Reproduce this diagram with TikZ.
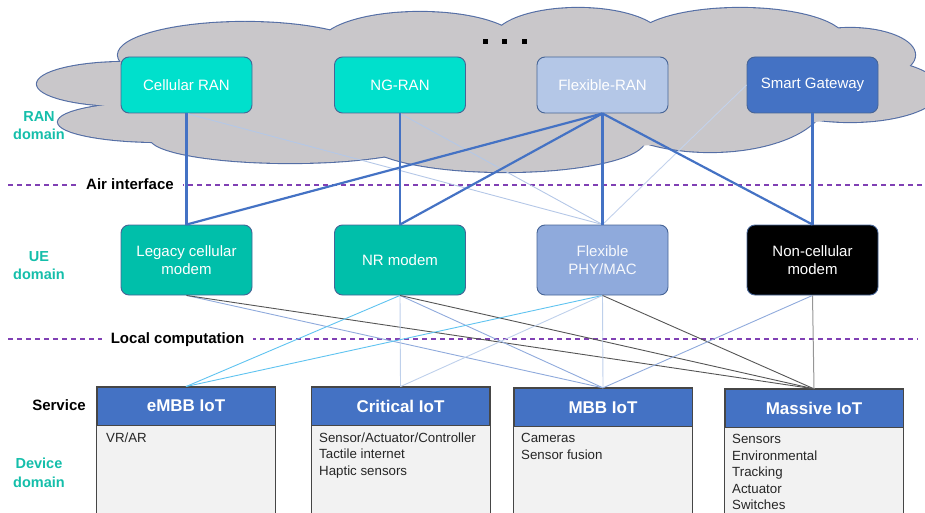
\documentclass[tikz,border=0pt]{standalone}
\usepackage{fontspec}
\setmainfont{Liberation Sans}

\definecolor{ranteal}{RGB}{0,224,204}
\definecolor{ueteal}{RGB}{0,191,170}
\definecolor{flexran}{RGB}{180,199,231}
\definecolor{flexphy}{RGB}{143,170,220}
\definecolor{gwblue}{RGB}{68,114,196}
\definecolor{boxedge}{RGB}{70,100,150}
\definecolor{hdredge}{RGB}{70,70,70}
\definecolor{cloudfill}{RGB}{201,199,202}
\definecolor{cloudline}{RGB}{84,110,165}
\definecolor{domainteal}{RGB}{20,190,170}
\definecolor{dashpurple}{RGB}{128,64,180}
\definecolor{linkblue}{RGB}{68,114,196}
\definecolor{linkpale}{RGB}{190,208,235}
\definecolor{linkcyan}{RGB}{95,195,240}
\definecolor{linkmid}{RGB}{143,170,220}
\definecolor{linkdark}{RGB}{85,85,85}
\definecolor{linkgray}{RGB}{150,150,150}
\definecolor{bodyfill}{RGB}{242,242,242}

\tikzset{
  ranbox/.style={draw=boxedge, line width=0.9pt, rounded corners=8pt,
    minimum width=131pt, minimum height=56pt, inner sep=0pt, text=white,
    align=center, font=\fontsize{15}{18}\selectfont},
  uebox/.style={ranbox, minimum height=70pt},
  svchdr/.style={draw=hdredge, line width=0.9pt, fill=gwblue, minimum width=178pt,
    minimum height=38pt, inner sep=0pt, text=white,
    font=\bfseries\fontsize{17}{20}\selectfont},
  svcbody/.style={draw=hdredge, line width=0.9pt, fill=bodyfill},
  bodytext/.style={anchor=north west, inner sep=0pt, align=left,
    text=black!85, font=\fontsize{13.3}{16.5}\selectfont},
  domainlabel/.style={text=domainteal, align=center,
    font=\bfseries\fontsize{14.5}{18.5}\selectfont},
  layerlabel/.style={fill=white, anchor=base, inner xsep=9pt, inner ysep=1pt,
    font=\bfseries\fontsize{15}{18}\selectfont},
  layerline/.style={draw=dashpurple, line width=1.8pt, dash pattern=on 5pt off 4pt},
  biglink/.style={draw=linkblue, line width=2.2pt},
  thinlink/.style={line width=0.9pt},
}

\begin{document}
\begin{tikzpicture}[x=1pt,y=-1pt]
\useasboundingbox (0,0) rectangle (925,513);

% ---- RAN cloud: lobes outlined, then filled over to keep only the outer edge
\def\cloudlobes{125/84/88/22, 160/122/102/20, 290/138/140/25, 505/140/140/32,
  710/100/115/52, 850/55/65/27, 850/90/90/32, 245/55/127/33, 420/45/100/33,
  578/40/85/32, 740/40/105/32}
\foreach \cx/\cy/\rx/\ry in \cloudlobes
  \draw[cloudline, line width=2.2pt] (\cx,\cy) ellipse [x radius=\rx pt, y radius=\ry pt];
\foreach \cx/\cy/\rx/\ry in \cloudlobes
  \fill[cloudfill] (\cx,\cy) ellipse [x radius=\rx pt, y radius=\ry pt];
\fill[cloudfill] (130,70) -- (250,40) -- (400,30) -- (580,25) -- (760,25) -- (880,60)
  -- (880,110) -- (800,125) -- (700,140) -- (500,160) -- (300,150) -- (170,125) -- cycle;

% ellipsis dots
\foreach \dx in {485,504.5,524}
  \fill[black] (\dx-2.5,39.5) rectangle (\dx+2.5,44.5);

% ---- layer separators
\coordinate (airL) at (8,185);
\coordinate (airR) at (922,185);
\coordinate (locL) at (8,339);
\coordinate (locR) at (918,339);
\draw[layerline] (airL) -- (airR);
\draw[layerline] (locL) -- (locR);
\node[layerlabel] (airlbl) at (130,189.8) {Air interface};
\node[layerlabel] (loclbl) at (177.5,343.5) {Local computation};

% ---- domain labels
\node[domainlabel] (random) at (39,125.5) {RAN\\domain};
\node[domainlabel] (uedom) at (39,265.5) {UE\\domain};
\node[domainlabel] (devdom) at (39,473) {Device\\domain};
\node[font=\bfseries\fontsize{15}{18}\selectfont] (svclbl) at (59,405) {Service};

% ---- RAN nodes
\node[ranbox, fill=ranteal] (cran) at (186.5,85) {Cellular RAN};
\node[ranbox, fill=ranteal] (ngran) at (400,85) {NG-RAN};
\node[ranbox, fill=flexran] (fran) at (602.5,85) {Flexible-RAN};
\node[ranbox, fill=gwblue] (sgw) at (812.5,85) {Smart Gateway};

% ---- UE modems
\node[uebox, fill=ueteal] (leg) at (186.5,260) {Legacy cellular\\modem};
\node[uebox, fill=ueteal] (nr) at (400,260) {NR modem};
\node[uebox, fill=flexphy, text=white!92!flexphy] (fphy) at (602.5,260) {Flexible\\PHY/MAC};
\node[uebox, fill=black] (nonc) at (812.5,260) {Non-cellular\\modem};

% ---- service columns
\node[svchdr] (emb) at (186,406) {eMBB IoT};
\node[svchdr] (crit) at (400.5,406) {Critical IoT};
\node[svchdr] (mbb) at (603,407.3) {MBB IoT};
\node[svchdr] (mass) at (814,408.3) {Massive IoT};
\foreach \h in {emb,crit,mbb,mass}
  \draw[svcbody] (\h.south west) rectangle ([yshift=-100pt]\h.south east);
\foreach \h in {emb,crit,mbb,mass}
  \draw[hdredge, line width=0.9pt] (\h.south west) rectangle (\h.north east);

\node[bodytext] (embtxt) at (106,432.4) {VR/AR};
\node[bodytext] (crittxt) at (319,432.4) {Sensor/Actuator/Controller\\Tactile internet\\Haptic sensors};
\node[bodytext] (mbbtxt) at (521,433.4) {Cameras\\Sensor fusion};
\node[bodytext] (masstxt) at (732,434.4) {Sensors\\Environmental\\Tracking\\Actuator\\Switches};

% ---- radio links between RAN and UE
\draw[thinlink, draw=flexran] (cran.south) -- (fphy.north);
\draw[thinlink, draw=flexran] (ngran.south) -- (fphy.north);
\draw[thinlink, draw=flexran!80] (sgw.west) -- (fphy.north);
\draw[biglink] (cran.south) -- (leg.north);
\draw[biglink] (ngran.south) -- (nr.north);
\draw[biglink] (fran.south) -- (leg.north);
\draw[biglink] (fran.south) -- (nr.north);
\draw[biglink] (fran.south) -- (fphy.north);
\draw[biglink] (fran.south) -- (nonc.north);
\draw[biglink] (sgw.south) -- (nonc.north);

% ---- local links between UE and services
\draw[thinlink, draw=linkmid] (leg.south) -- (mbb.north);
\draw[thinlink, draw=linkdark] (leg.south) -- (mass.north);
\draw[thinlink, draw=linkcyan] (nr.south) -- (emb.north);
\draw[thinlink, draw=linkpale] (nr.south) -- (crit.north);
\draw[thinlink, draw=linkmid] (nr.south) -- (mbb.north);
\draw[thinlink, draw=linkdark] (nr.south) -- (mass.north);
\draw[thinlink, draw=linkcyan] (fphy.south) -- (emb.north);
\draw[thinlink, draw=linkpale] (fphy.south) -- (crit.north);
\draw[thinlink, draw=linkpale] (fphy.south) -- (mbb.north);
\draw[thinlink, draw=linkdark] (fphy.south) -- (mass.north);
\draw[thinlink, draw=linkmid] (nonc.south) -- (mbb.north);
\draw[thinlink, draw=linkgray, line width=1pt] (nonc.south) -- (mass.north);
\end{tikzpicture}
\end{document}
